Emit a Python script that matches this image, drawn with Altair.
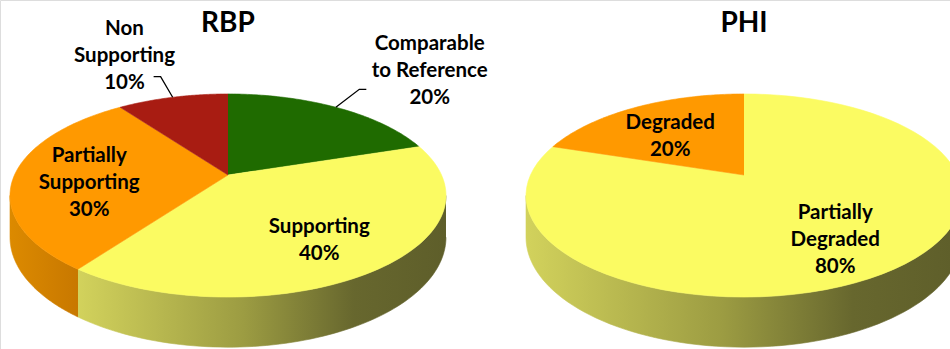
import altair as alt
import pandas as pd

# ---------------- data ----------------
pie_titles = ["RBP", "PHI"]

rbp_categories = ["Comparable to Reference", "Supporting", "Partially Supporting", "Non Supporting"]
rbp_labels = ["Comparable\nto Reference", "Supporting", "Partially\nSupporting", "Non\nSupporting"]
rbp_values = [20, 40, 30, 10]

phi_categories = ["Partially Degraded", "Degraded"]
phi_labels = ["Partially\nDegraded", "Degraded"]
phi_values = [80, 20]

# ---------------- style ----------------
slice_colors = {
    "Comparable to Reference": "#1f6b00",
    "Supporting": "#fbfb62",
    "Partially Supporting": "#ff9900",
    "Non Supporting": "#a81c12",
    "Partially Degraded": "#fbfb62",
    "Degraded": "#ff9900",
}
side_stops = {
    "#fbfb62": [(0.0, "#d2d25c"), (0.45, "#9c9c42"), (0.75, "#67672e"), (1.0, "#5e5e2a")],
    "#ff9900": [(0.0, "#dc8a00"), (1.0, "#c87800")],
    "#1f6b00": [(0.0, "#1a5a00"), (1.0, "#103800")],
    "#a81c12": [(0.0, "#8e170f"), (1.0, "#5e0f0a")],
}
label_outside = {"Comparable to Reference": True, "Non Supporting": True}

FONT = "Lato"
FONT_SIZE = 20.5
LINE_H = 27
W, H = 950, 349
CX0, DX = 228, 516      # pie centre (x) of first pie and spacing
CY = 175                # pie centre (y)
RX, RY = 213.5, 97.4    # projected radii
K = 0.202               # perspective factor
DEPTH = 40              # thickness of the pie
N = 80                  # points along an arc

# ---------------- table ----------------
rows = []
for p, (cats, labs, vals) in enumerate([(rbp_categories, rbp_labels, rbp_values),
                                        (phi_categories, phi_labels, phi_values)]):
    for i, (c, l, v) in enumerate(zip(cats, labs, vals)):
        txt = f"{l}\n{v}%"
        rows.append({
            "pie": p, "order": i, "category": c, "key": f"{p}-{c}",
            "value": v, "text": txt, "nlines": txt.count("\n") + 1,
            "outside": 1 if label_outside.get(c, False) else 0,
        })
df = pd.DataFrame(rows)
titles_df = pd.DataFrame({"pie": list(range(len(pie_titles))), "title": pie_titles})

all_cats = list(slice_colors.keys())
color_scale = alt.Scale(domain=all_cats, range=[slice_colors[c] for c in all_cats])

X = alt.X("px:Q", scale=alt.Scale(domain=[0, W], nice=False, zero=False), axis=None)
Y = alt.Y("py:Q", scale=alt.Scale(domain=[0, H], reverse=True, nice=False, zero=False), axis=None)

base = (
    alt.Chart(df)
    .transform_window(cum="sum(value)", sort=[alt.SortField("order")], groupby=["pie"], frame=[None, 0])
    .transform_joinaggregate(total="sum(value)", groupby=["pie"])
    .transform_calculate(t0="2*PI*(datum.cum - datum.value)/datum.total")
    .transform_calculate(t1="2*PI*datum.cum/datum.total")
    .transform_calculate(cx=f"{CX0} + datum.pie*{DX}")
)

# ---------- side walls ----------
TA = "acos(-%f)" % K
side_base = (
    base.transform_calculate(s0=f"max(datum.t0, {TA})")
    .transform_calculate(s1=f"min(datum.t1, 2*PI - {TA})")
    .transform_filter("datum.s1 > datum.s0")
    .transform_calculate(idx=f"sequence(0, {2 * N + 2})")
    .transform_flatten(["idx"])
    .transform_calculate(bottom=f"datum.idx > {N} ? 1 : 0")
    .transform_calculate(
        th=f"datum.idx <= {N} ? datum.s0 + (datum.s1 - datum.s0)*datum.idx/{N} : "
           f"datum.s1 - (datum.s1 - datum.s0)*(datum.idx - {N + 1})/{N}")
    .transform_calculate(w=f"1 + {K}*cos(datum.th)")
    .transform_calculate(px=f"datum.cx + {RX}*sin(datum.th)/datum.w")
    .transform_calculate(py=f"{CY} - {RY}*cos(datum.th)/datum.w + datum.bottom*{DEPTH}/datum.w")
)

side_layers = []
for c in all_cats:
    stops = side_stops[slice_colors[c]]
    grad = alt.LinearGradient(
        gradient="linear",
        stops=[alt.GradientStop(offset=o, color=col) for o, col in stops],
        x1=0, x2=1, y1=0, y2=0,
    )
    side_layers.append(
        side_base.transform_filter(alt.datum.category == c)
        .mark_line(fill=grad, stroke=grad, strokeWidth=0.6)
        .encode(x=X, y=Y, order="idx:Q", detail="key:N")
    )

# ---------- top faces ----------
tops = (
    base.transform_calculate(idx=f"sequence(0, {N + 2})")
    .transform_flatten(["idx"])
    .transform_calculate(th=f"datum.t0 + (datum.t1 - datum.t0)*(datum.idx - 1)/{N}")
    .transform_calculate(r="datum.idx == 0 ? 0 : 1")
    .transform_calculate(u="datum.r*sin(datum.th)")
    .transform_calculate(v="datum.r*cos(datum.th)")
    .transform_calculate(w=f"1 + {K}*datum.v")
    .transform_calculate(px=f"datum.cx + {RX}*datum.u/datum.w")
    .transform_calculate(py=f"{CY} - {RY}*datum.v/datum.w")
    .mark_line(strokeWidth=0.6)
    .encode(
        x=X, y=Y, order="idx:Q", detail="key:N",
        fill=alt.Fill("category:N", scale=color_scale, legend=None),
        stroke=alt.Stroke("category:N", scale=color_scale, legend=None),
    )
)

# ---------- labels ----------
lab_base = (
    base.transform_calculate(mid="(datum.t0 + datum.t1)/2")
    # inside position
    .transform_calculate(iu="0.65*sin(datum.mid)")
    .transform_calculate(iv="0.65*cos(datum.mid)")
    .transform_calculate(iw=f"1 + {K}*datum.iv")
    .transform_calculate(ix=f"datum.cx + {RX}*datum.iu/datum.iw")
    .transform_calculate(iy=f"{CY} - {RY}*datum.iv/datum.iw + 8")
    # rim point
    .transform_calculate(bw=f"1 + {K}*cos(datum.mid)")
    .transform_calculate(bx=f"datum.cx + {RX}*sin(datum.mid)/datum.bw")
    .transform_calculate(by=f"{CY} - {RY}*cos(datum.mid)/datum.bw")
    # outside position
    .transform_calculate(ox="datum.cx + 1.87*(datum.bx - datum.cx)")
    .transform_calculate(oy=f"{CY} + 1.53*(datum.by - {CY})")
    .transform_calculate(lx="datum.outside ? datum.ox : datum.ix")
    .transform_calculate(ly="datum.outside ? datum.oy : datum.iy")
    # first-line anchor so that the text block is centred on (lx, ly)
    .transform_calculate(ty=f"datum.ly - (datum.nlines - 1)*{LINE_H}/2")
)

labels = lab_base.mark_text(
    font=FONT, fontSize=FONT_SIZE, fontWeight="bold", lineBreak="\n", lineHeight=LINE_H,
    align="center", baseline="middle", color="#000000",
).encode(
    x=alt.X("lx:Q", scale=alt.Scale(domain=[0, W], nice=False, zero=False), axis=None),
    y=alt.Y("ty:Q", scale=alt.Scale(domain=[0, H], reverse=True, nice=False, zero=False), axis=None),
    text="text:N",
)

leaders = (
    lab_base.transform_filter("datum.outside == 1")
    .transform_calculate(ex="datum.bx + 0.25*(datum.lx - datum.bx)")
    .transform_calculate(ey="datum.ly + 0.5*(datum.by - datum.ly)")
    .transform_calculate(hx="datum.ex + (datum.lx > datum.bx ? 7 : -7)")
    .transform_calculate(idx="sequence(0, 3)")
    .transform_flatten(["idx"])
    .transform_calculate(px="datum.idx == 0 ? datum.bx : (datum.idx == 1 ? datum.ex : datum.hx)")
    .transform_calculate(py="datum.idx == 0 ? datum.by : datum.ey")
    .mark_line(color="#000000", strokeWidth=1.3)
    .encode(x=X, y=Y, order="idx:Q", detail="key:N")
)

# ---------- titles ----------
titles = (
    alt.Chart(titles_df)
    .transform_calculate(px=f"{CX0} + datum.pie*{DX}")
    .transform_calculate(py="24")
    .mark_text(font=FONT, fontSize=28, fontWeight="bold", color="#000000", align="center", baseline="middle")
    .encode(x=X, y=Y, text="title:N")
)

chart = (
    alt.layer(*side_layers, tops, leaders, labels, titles)
    .properties(width=W, height=H, padding=0, autosize=alt.AutoSizeParams(type="none"))
    .configure_view(stroke=None)
    .configure(background="white")
)

chart.save("out.html", embed_options={"renderer": "svg", "actions": False})
